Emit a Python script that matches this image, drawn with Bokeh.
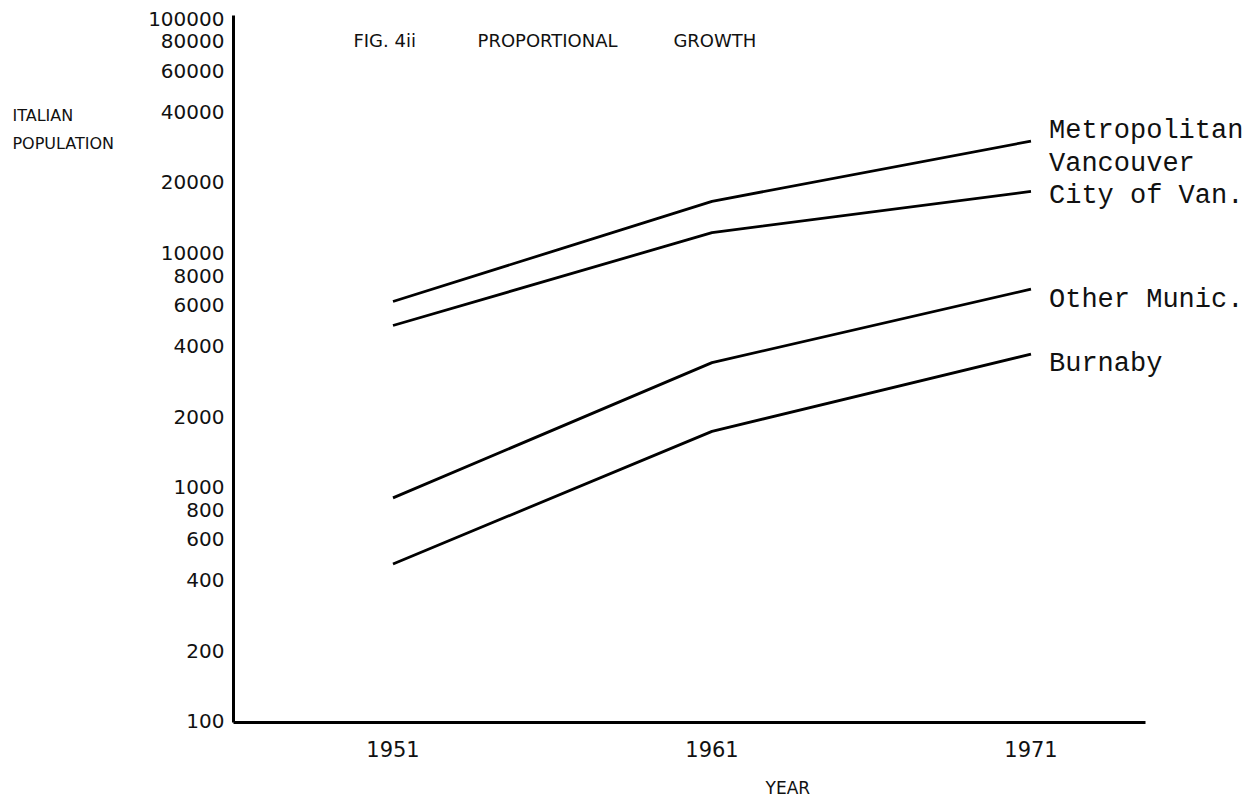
from bokeh.plotting import figure
from bokeh.models import Range1d, FixedTicker, Label, NumeralTickFormatter
from bokeh.embed import file_html
from bokeh.resources import INLINE

# ---- data ----
years = [1951, 1961, 1971]
x_tick_labels = ["1951", "1961", "1971"]
y_ticks = [100, 200, 400, 600, 800, 1000, 2000, 4000, 6000, 8000,
           10000, 20000, 40000, 60000, 80000, 100000]
y_tick_labels = ["100", "200", "400", "600", "800", "1000", "2000", "4000",
                 "6000", "8000", "10000", "20000", "40000", "60000",
                 "80000", "100000"]

metro_vancouver = [6200, 16600, 30000]
city_of_van = [4900, 12200, 18300]
other_munic = [900, 3400, 7000]
burnaby = [470, 1730, 3700]

series_names = ["Metropolitan\nVancouver", "City of Van.", "Other Munic.", "Burnaby"]
series_values = [metro_vancouver, city_of_van, other_munic, burnaby]

title_parts = ["FIG. 4ii", "PROPORTIONAL", "GROWTH"]
y_title_lines = ["ITALIAN", "POPULATION"]
x_title = "YEAR"

# ---- figure (frame fills the canvas; axes are pinned inside it) ----
p = figure(width=1255, height=804, y_axis_type="log",
           x_range=Range1d(1938.696, 1978.038), y_range=Range1d(44.2, 119500),
           output_backend="svg", toolbar_location=None,
           min_border=0, min_border_left=0, min_border_right=0,
           min_border_top=0, min_border_bottom=0)
p.outline_line_color = None
p.xgrid.visible = False
p.ygrid.visible = False
p.background_fill_color = "white"
p.border_fill_color = "white"

for ax in (p.xaxis[0], p.yaxis[0]):
    ax.axis_line_width = 3
    ax.axis_line_color = "#000000"
    ax.major_tick_line_color = None
    ax.minor_tick_line_color = None
    ax.major_tick_out = 0
    ax.major_tick_in = 0
    ax.minor_tick_out = 0
    ax.minor_tick_in = 0
    ax.major_label_text_font = "DejaVu Sans"
    ax.major_label_text_font_size = "20px"
    ax.major_label_text_color = "#111111"

p.yaxis.fixed_location = 1946.0
p.yaxis.bounds = (99, 103100)
p.yaxis.ticker = FixedTicker(ticks=y_ticks)
p.yaxis.formatter = NumeralTickFormatter(format="0")
p.yaxis.major_label_overrides = {t: s for t, s in zip(y_ticks, y_tick_labels)}
p.yaxis.major_label_standoff = 9

p.xaxis.fixed_location = 99
p.xaxis.bounds = (1946.0, 1974.59)
p.xaxis.ticker = FixedTicker(ticks=years)
p.xaxis.major_label_overrides = {t: s for t, s in zip(years, x_tick_labels)}
p.xaxis.major_label_standoff = 19
p.xaxis.major_label_text_font_size = "21px"

# ---- lines ----
for vals in series_values:
    p.line(years, vals, line_width=2.8, line_color="#000000")

# ---- end labels ----
label_offsets = [10, -5, -11, -10]   # vertical nudge in px (up positive)
line_step = 33
for name, vals, off in zip(series_names, series_values, label_offsets):
    for i, part in enumerate(name.split("\n")):
        p.add_layout(Label(x=years[-1], y=vals[-1], text=part,
                           x_offset=18, y_offset=off - i * line_step,
                           text_font="Liberation Mono", text_font_size="27px",
                           text_color="#111111",
                           text_align="left", text_baseline="middle"))

# ---- title texts ----
title_x = [1949.76, 1953.65, 1959.79]
for tx, part in zip(title_x, title_parts):
    p.add_layout(Label(x=tx, y=80600, text=part, text_font="DejaVu Sans",
                       text_font_size="18px", text_color="#111111",
                       text_align="left", text_baseline="middle"))

for ty, part in zip([38590, 29310], y_title_lines):
    p.add_layout(Label(x=1939.07, y=ty, text=part, text_font="DejaVu Sans",
                       text_font_size="16px", text_color="#111111",
                       text_align="left", text_baseline="middle"))

p.add_layout(Label(x=1962.68, y=52, text=x_title, text_font="DejaVu Sans",
                   text_font_size="17px", text_color="#111111",
                   text_align="left", text_baseline="middle"))

open("out.html", "w").write(file_html(p, INLINE))
